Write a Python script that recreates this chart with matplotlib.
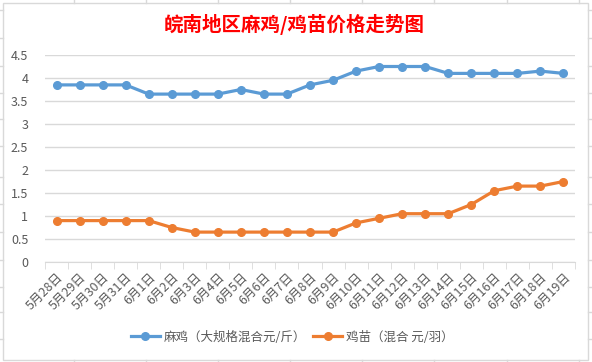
import matplotlib

matplotlib.use("Agg")

import matplotlib.pyplot as plt
from matplotlib.lines import Line2D
from matplotlib.patches import Rectangle

plt.rcParams["font.family"] = ["Noto Sans CJK SC", "DejaVu Sans"]

TITLE = "皖南地区麻鸡/鸡苗价格走势图"
DATES = ["5月28日", "5月29日", "5月30日", "5月31日"] + [f"6月{d}日" for d in range(1, 20)]
CHICKEN = [3.85, 3.85, 3.85, 3.85, 3.65, 3.65, 3.65, 3.65, 3.75, 3.65, 3.65, 3.85,
           3.95, 4.15, 4.25, 4.25, 4.25, 4.1, 4.1, 4.1, 4.1, 4.15, 4.1]
CHICK = [0.9, 0.9, 0.9, 0.9, 0.9, 0.75, 0.65, 0.65, 0.65, 0.65, 0.65, 0.65,
         0.65, 0.85, 0.95, 1.05, 1.05, 1.05, 1.25, 1.55, 1.65, 1.65, 1.75]
SERIES_NAMES = ["麻鸡（大规格混合元/斤）", "鸡苗（混合 元/羽）"]
Y_TICKS = [0, 0.5, 1, 1.5, 2, 2.5, 3, 3.5, 4, 4.5]

BLUE = "#5B9BD5"
ORANGE = "#ED7D31"
GRID = "#d9d9d9"
TEXT = "#595959"

W, H = 592, 362
fig = plt.figure(figsize=(W / 100, H / 100), dpi=100)
fig.patch.set_facecolor("white")


def px(x, y):
    return x / W, 1 - y / H


# spreadsheet cell lines peeking out around the chart
for x in [74, 146, 218, 290, 362, 434, 507, 579]:
    fig.add_artist(Line2D([px(x, 0)[0]] * 2, [px(0, 0)[1], px(0, 3)[1]], color=GRID, lw=1))
    fig.add_artist(Line2D([px(x, 0)[0]] * 2, [px(0, 360)[1], px(0, 362)[1]], color=GRID, lw=1))
for y in [10, 38, 66, 93, 119, 146, 177, 204, 232, 260, 287, 312, 339]:
    fig.add_artist(Line2D([px(0, 0)[0], px(3, 0)[0]], [px(0, y)[1]] * 2, color=GRID, lw=1))
    fig.add_artist(Line2D([px(588, 0)[0], px(592, 0)[0]], [px(0, y)[1]] * 2, color=GRID, lw=1))
x0, y0 = px(3, 360)
x1, y1 = px(588, 3)
fig.add_artist(Rectangle((x0, y0), x1 - x0, y1 - y0, fill=False, edgecolor=GRID, lw=1))

left, right, top, bottom = 45, 575, 55, 262
ax = fig.add_axes([left / W, 1 - bottom / H, (right - left) / W, (bottom - top) / H])

xs = list(range(len(DATES)))
ax.plot(xs, CHICKEN, color=BLUE, lw=2.3, marker="o", ms=5.5, label=SERIES_NAMES[0], zorder=3)
ax.plot(xs, CHICK, color=ORANGE, lw=2.3, marker="o", ms=5.5, label=SERIES_NAMES[1], zorder=3)

ax.set_xlim(-0.5, len(DATES) - 0.5)
ax.set_ylim(0, 4.5)
ax.set_yticks(Y_TICKS)
ax.set_yticklabels([f"{v:g}" for v in Y_TICKS], color=TEXT, fontsize=9)
ax.yaxis.grid(True, color=GRID, lw=1)
ax.set_axisbelow(True)
ax.tick_params(axis="y", length=0, pad=12)

ax.set_xticks(xs)
ax.set_xticklabels(DATES, rotation=45, ha="right", rotation_mode="anchor", color=TEXT, fontsize=9)
ax.tick_params(axis="x", which="major", length=0, pad=6)
ax.set_xticks([i - 0.5 for i in range(len(DATES) + 1)], minor=True)
ax.tick_params(axis="x", which="minor", length=5, color=GRID, direction="out")

for side in ["left", "right", "top"]:
    ax.spines[side].set_visible(False)
ax.spines["bottom"].set_color(GRID)

fig.text(294 / W, 1 - 24 / H, TITLE, color="red", fontsize=14, fontweight="bold", ha="center", va="center")

fig.legend(loc="center", bbox_to_anchor=(292 / W, 1 - 337 / H), ncol=2, frameon=False,
           fontsize=9, labelcolor=TEXT, handlelength=2.3, columnspacing=0.6, handletextpad=0.3)

fig.savefig("out.png", dpi=100, facecolor="white")
